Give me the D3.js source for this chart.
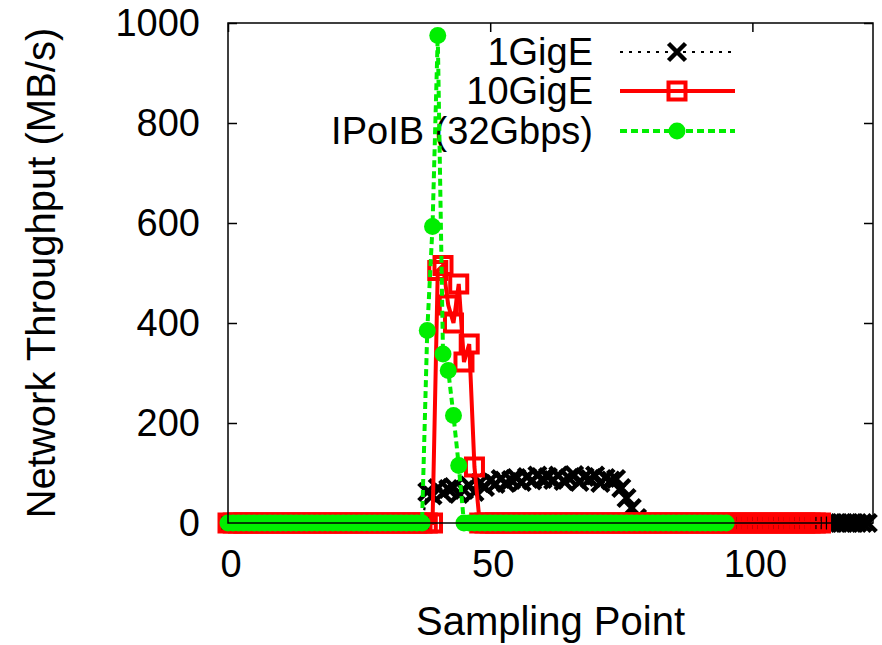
<!DOCTYPE html>
<html>
<head>
<meta charset="utf-8">
<script src="https://cdn.jsdelivr.net/npm/d3@7"></script>
<style>
  html, body { margin: 0; padding: 0; background: #fff; }
  svg { display: block; font-family: "Liberation Sans", Arial, Helvetica, sans-serif; }
</style>
</head>
<body>
<svg id="chart" width="882" height="645"></svg>
<script>
// ---------------- data ----------------
const seriesNames = ["1GigE", "10GigE", "IPoIB (32Gbps)"];
const xTicks = [0, 50, 100];
const yTicks = [0, 200, 400, 600, 800, 1000];

// 1GigE : sampling points 0..123
const gige1 = [
  0,0,0,0,0,0,0,0,0,0, 0,0,0,0,0,0,0,0,0,0,
  0,0,0,0,0,0,0,0,0,0, 0,0,0,0,0,0,0,0,
  62,55,70,60,68,72,58,66,75,62, 80,72,85,78,88,80,86,90,82,92,
  85,95,88,92,86,95,84,90,96,82, 92,88,95,80,90,85,88,70,50,30, 10,
  0,0,0,0,0,0,0,0,0,0, 0,0,0,0,0,0,0,0,0,0,
  0,0,0,0,0,0,0,0,0,0, 0,0,0,0,0,0,0,0,0,0,
  0,0,0,0
];
// 10GigE : sampling points 0..113
const gige10 = [
  0,0,0,0,0,0,0,0,0,0, 0,0,0,0,0,0,0,0,0,0,
  0,0,0,0,0,0,0,0,0,0, 0,0,0,0,0,0,0,0,0,0,
  505,515,436,400,478,322,358,112,
  0,0,0,0,0,0,0,0,0,0, 0,0,0,0,0,0,0,0,0,0,
  0,0,0,0,0,0,0,0,0,0, 0,0,0,0,0,0,0,0,0,0,
  0,0,0,0,0,0,0,0,0,0, 0,0,0,0,0,0,0,0,0,0,
  0,0,0,0,0,0
];
// IPoIB (32Gbps) : sampling points 0..95
const ipoib = [
  0,0,0,0,0,0,0,0,0,0, 0,0,0,0,0,0,0,0,0,0,
  0,0,0,0,0,0,0,0,0,0, 0,0,0,0,0,0,0,0,
  385,593,975,338,305,215,115,
  0,0,0,0,0,0,0,0,0,0, 0,0,0,0,0,0,0,0,0,0,
  0,0,0,0,0,0,0,0,0,0, 0,0,0,0,0,0,0,0,0,0,
  0,0,0,0,0,0,0,0,0,0, 0
];

// ---------------- layout ----------------
const svg = d3.select("#chart");
const pL = 228, pR = 873, pT = 23, pB = 523;
const FS = 38, FT = 40;

const x = d3.scaleLinear().domain([0, 123]).range([pL, pR]);
const y = d3.scaleLinear().domain([0, 1000]).range([pB, pT]);

const styles = [
  { color: "#000000", width: 2.2, dash: "3,6", marker: "x" },
  { color: "#ff0000", width: 4, dash: null, marker: "square" },
  { color: "#00ee00", width: 4, dash: "7,4", marker: "circle" }
];
const seriesData = [gige1, gige10, ipoib];

// axes ticks (inward, mirrored)
const axisBottom = d3.axisBottom(x).tickValues(xTicks).tickSize(-9).tickFormat("");
const axisTop = d3.axisTop(x).tickValues(xTicks).tickSize(-9).tickFormat("");
const axisLeft = d3.axisLeft(y).tickValues(yTicks).tickSize(-9).tickFormat("");
const axisRight = d3.axisRight(y).tickValues(yTicks).tickSize(-9).tickFormat("");
function styleAxis(g) {
  g.select(".domain").remove();
  g.selectAll(".tick line").attr("stroke", "#000").attr("stroke-width", 1.5);
}
svg.append("g").attr("transform", `translate(0,${pB})`).call(axisBottom).call(styleAxis);
svg.append("g").attr("transform", `translate(0,${pT})`).call(axisTop).call(styleAxis);
svg.append("g").attr("transform", `translate(${pL},0)`).call(axisLeft).call(styleAxis);
svg.append("g").attr("transform", `translate(${pR},0)`).call(axisRight).call(styleAxis);

// tick labels
svg.append("g").selectAll("text").data(xTicks).join("text")
  .attr("x", d => x(d) + 3).attr("y", 577)
  .attr("text-anchor", "middle").attr("font-size", FS).text(d => d);
svg.append("g").selectAll("text").data(yTicks).join("text")
  .attr("x", 200).attr("y", d => y(d) + 13)
  .attr("text-anchor", "end").attr("font-size", FS).text(d => d);

// axis titles
svg.append("text").attr("x", (pL + pR) / 2).attr("y", 635)
  .attr("text-anchor", "middle").attr("font-size", FT).text("Sampling Point");
svg.append("text").attr("transform", `translate(55,${(pT + pB) / 2}) rotate(-90)`)
  .attr("text-anchor", "middle").attr("font-size", FT).text("Network Throughput (MB/s)");

// markers
function drawMarker(g, type, color, cx, cy) {
  if (type === "x") {
    const s = 8.5;
    g.append("path").attr("d", `M${cx - s},${cy - s}L${cx + s},${cy + s}M${cx - s},${cy + s}L${cx + s},${cy - s}`)
      .attr("stroke", color).attr("stroke-width", 4.5).attr("fill", "none");
  } else if (type === "square") {
    const s = 8.5;
    g.append("rect").attr("x", cx - s).attr("y", cy - s).attr("width", 2 * s).attr("height", 2 * s)
      .attr("stroke", color).attr("stroke-width", 4).attr("fill", "none");
  } else {
    g.append("circle").attr("cx", cx).attr("cy", cy).attr("r", 8.5).attr("fill", color);
  }
}

// legend
const legX = 593, legLine0 = 620, legLine1 = 735, legMark = 677;
const legY = [52, 91, 131];
const legend = svg.append("g");
seriesNames.forEach((name, i) => {
  const st = styles[i];
  legend.append("text").attr("x", legX).attr("y", legY[i] + 13)
    .attr("text-anchor", "end").attr("font-size", FS).text(name);
  legend.append("line").attr("x1", legLine0).attr("x2", legLine1)
    .attr("y1", legY[i]).attr("y2", legY[i])
    .attr("stroke", st.color).attr("stroke-width", st.width)
    .attr("stroke-dasharray", st.dash);
  drawMarker(legend, st.marker, st.color, legMark, legY[i]);
});

// series
const line = d3.line().x((d, i) => x(i)).y(d => y(d));
seriesData.forEach((data, k) => {
  const st = styles[k];
  const g = svg.append("g");
  g.append("path").datum(data).attr("d", line)
    .attr("fill", "none").attr("stroke", st.color).attr("stroke-width", st.width)
    .attr("stroke-dasharray", st.dash).attr("stroke-linejoin", "miter");
  data.forEach((v, i) => drawMarker(g, st.marker, st.color, x(i), y(v)));
});

// border (front)
svg.append("rect").attr("x", pL).attr("y", pT).attr("width", pR - pL).attr("height", pB - pT)
  .attr("fill", "none").attr("stroke", "#000").attr("stroke-width", 1.5);
</script>
</body>
</html>
